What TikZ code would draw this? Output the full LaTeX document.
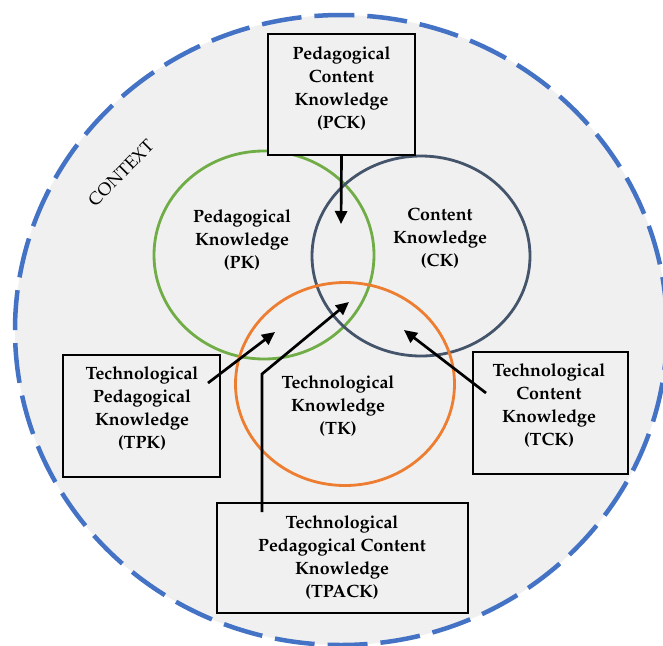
\documentclass[tikz,border=0pt]{standalone}
\usepackage[T1]{fontenc}
\usepackage{mathpazo}
\usetikzlibrary{arrows.meta,shapes.geometric}
\definecolor{bgray}{HTML}{F0F0F0}
\definecolor{ctxblue}{HTML}{4472C4}
\definecolor{pkgreen}{HTML}{70AD47}
\definecolor{ckblue}{HTML}{44546A}
\definecolor{tkorange}{HTML}{ED7D31}
\begin{document}
\begin{tikzpicture}[x=1pt,y=-1pt,
  ring/.style={ellipse,draw,line width=2.8pt,inner sep=0pt},
  kbox/.style={rectangle,draw=black,fill=bgray,line width=2pt,inner sep=0pt},
  lbl/.style={align=center,font=\fontsize{17.8}{23}\selectfont\bfseries},
  arr/.style={line width=2.7pt,-{Triangle[length=13pt,width=12pt]}}]
\useasboundingbox (0,0) rectangle (663,645);
\fill[white] (0,0) rectangle (663,645);
% context
\begin{scope}
\clip (0,0) rectangle (663,645);
\fill[bgray] (341,330) ellipse [x radius=326, y radius=315];
\draw[ctxblue,line width=4.5pt,dash pattern=on 40pt off 13pt] (341,330) ellipse [x radius=326, y radius=315];
\end{scope}
\node[rotate=45,font=\fontsize{17.5}{20}\selectfont] (ctx) at (121,173) {CONTEXT};
% circles
\node[ring,draw=pkgreen,minimum width=220,minimum height=208] (pk) at (264,255) {};
\node[ring,draw=ckblue,minimum width=218,minimum height=200] (ck) at (421,256) {};
\node[ring,draw=tkorange,minimum width=219,minimum height=203] (tk) at (345,384) {};
\node[lbl] (pkt) at (242,240) {Pedagogical\\Knowledge\\(PK)};
\node[lbl] (ckt) at (440,238) {Content\\Knowledge\\(CK)};
\node[lbl] (tkt) at (338,406) {Technological\\Knowledge\\(TK)};
% boxes
\node[kbox,minimum width=147,minimum height=121] (pck) at (341.5,94) {};
\node[lbl] (pckt) at (341.5,89) {Pedagogical\\Content\\Knowledge\\(PCK)};
\node[kbox,minimum width=157,minimum height=122] (tpk) at (141.5,416) {};
\node[lbl] (tpkt) at (142,409) {Technological\\Pedagogical\\Knowledge\\(TPK)};
\node[kbox,minimum width=155,minimum height=122] (tck) at (550.5,413) {};
\node[lbl] (tckt) at (549,406) {Technological\\Content\\Knowledge\\(TCK)};
\node[kbox,minimum width=251,minimum height=110] (tpack) at (342.5,558) {};
\node[lbl] (tpackt) at (342,557.5) {Technological\\Pedagogical Content\\Knowledge\\(TPACK)};
% arrows
\coordinate (pcke) at (341,224);
\coordinate (tpks) at (208,383);
\coordinate (tpke) at (275,332);
\coordinate (tpacks) at (262,512);
\coordinate (tpackm) at (262,374);
\coordinate (tpacke) at (349,302);
\coordinate (tcks) at (486,393);
\coordinate (tcke) at (404,330);
\draw[arr] (pck.south) -- (pcke);
\draw[arr] (tpks) -- (tpke);
\draw[arr] (tpacks) -- (tpackm) -- (tpacke);
\draw[arr] (tcks) -- (tcke);
\end{tikzpicture}
\end{document}
